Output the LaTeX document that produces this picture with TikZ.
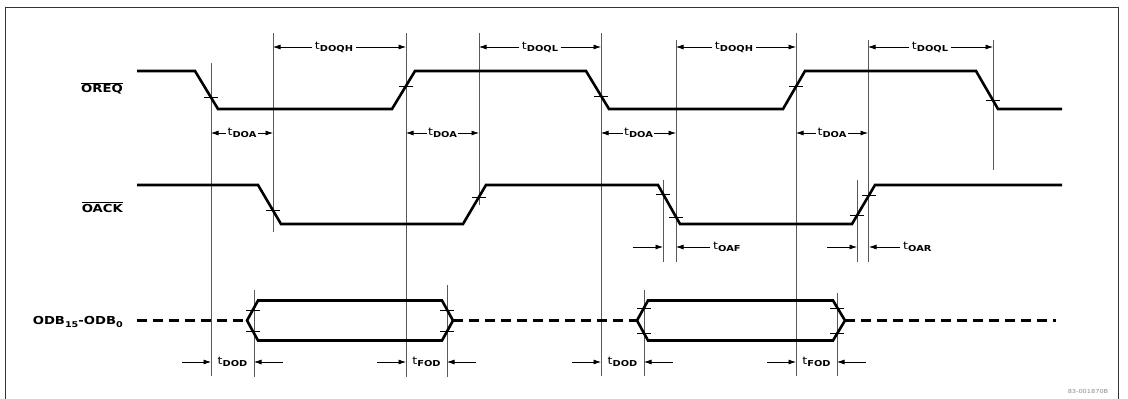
\documentclass[tikz,border=0pt]{standalone}
\usepackage{fontspec}
\newfontfamily\labfont[FakeStretch=1.2]{DejaVu Sans}
\usetikzlibrary{arrows.meta}
\newcommand\tsub[2]{{\labfont\fontsize{10.5}{12}\selectfont #1}\raisebox{-2pt}{\labfont\bfseries\fontsize{8.2}{9}\selectfont #2}}
\newcommand\sigsub[1]{\raisebox{-2.4pt}{\labfont\bfseries\fontsize{8}{9}\selectfont #1}}
\begin{document}
\begin{tikzpicture}[x=1pt,y=-1pt,
  sig/.style={line width=2.6pt, line join=miter},
  bus/.style={line width=2.6pt, dash pattern=on 10pt off 6pt},
  ref/.style={line width=0.6pt, black!65},
  tk/.style={line width=0.6pt, black},
  dim/.style={line width=0.7pt, -{Latex[length=7.5pt,width=5pt]}},
  tl/.style={inner sep=2.5pt},
  lbl/.style={font=\labfont\bfseries\fontsize{11}{12}\selectfont, anchor=east, inner sep=0pt}]
\useasboundingbox (0,0) rectangle (1128,399);
% frame
\draw[line width=1pt, black!80] (5,399) -- (5,7) -- (1118,7) -- (1118,399);
% signal names
\node[lbl] (nOREQ) at (123,88) {$\overline{\hbox{OREQ}}$};
\node[lbl] (nOACK) at (123,207) {$\overline{\hbox{OACK}}$};
\node[lbl] (nODB) at (123,322) {ODB\sigsub{15}-ODB\sigsub{0}};
% reference lines
\foreach \x/\ya/\yb in {211/63/376, 273/33/232, 406/33/377, 479/33/205, 601/33/376,
   676/40/262, 663/180/262, 796/33/376, 868/40/262, 857/180/262, 993/40/170,
   254/290/377, 447/285/377, 644/290/376, 837/293/376}
  \draw[ref] (\x,\ya) -- (\x,\yb);
% OREQ
\draw[sig] (137,71) -- (195,71) -- (218,109) -- (392,109) -- (415,71) -- (586,71)
  -- (609,109) -- (783,109) -- (805,71) -- (976,71) -- (998,109) -- (1062,109);
% OACK
\draw[sig] (137,185) -- (258,185) -- (281,224) -- (463,224) -- (486,185) -- (658,185)
  -- (680,224) -- (852,224) -- (875,185) -- (1062,185);
% data bus
\draw[bus] (137,320.5) -- (247,320.5);
\draw[bus] (453,320.5) -- (637,320.5);
\draw[bus] (845,320.5) -- (1056,320.5);
\draw[sig] (247,320.5) -- (258,300.5) -- (442,300.5) -- (453,320.5) -- (442,340.5) -- (258,340.5) -- cycle;
\draw[sig] (637,320.5) -- (648,300.5) -- (833,300.5) -- (845,320.5) -- (833,340.5) -- (648,340.5) -- cycle;
% crossing ticks
\foreach \x/\y in {211/97, 406/86, 601/96, 796/86, 993/100,
   273/210, 479/197, 663/194, 676/217, 857/215, 869/195,
   253/310, 253/331, 447/310, 447/331, 644/308, 644/333, 837/308, 837/333}
  \draw[tk] (\x-7,\y) -- (\x+7,\y);
% top dimensions
\node[tl] (dq1) at (334,47) {\tsub{t}{DOQH}};
\draw[dim] (dq1.west) -- (273,47); \draw[dim] (dq1.east) -- (406,47);
\node[tl] (dq2) at (540,47) {\tsub{t}{DOQL}};
\draw[dim] (dq2.west) -- (479,47); \draw[dim] (dq2.east) -- (601,47);
\node[tl] (dq3) at (734,47) {\tsub{t}{DOQH}};
\draw[dim] (dq3.west) -- (676,47); \draw[dim] (dq3.east) -- (796,47);
\node[tl] (dq4) at (930,47) {\tsub{t}{DOQL}};
\draw[dim] (dq4.west) -- (868,47); \draw[dim] (dq4.east) -- (993,47);
% tDOA
\foreach \n/\xa/\xb in {a1/211/273, a2/406/479, a3/601/676, a4/796/868}{
  \node[tl, inner sep=1.2pt] (\n) at ({(\xa+\xb)/2},133) {\tsub{t}{DOA}};
  \draw[dim] (\n.west) -- (\xa,133); \draw[dim] (\n.east) -- (\xb,133);}
% tOAF / tOAR
\draw[dim] (633,247) -- (663,247); \draw[dim] (710,247) -- (676,247);
\node[anchor=west, inner sep=0pt] (oaf) at (713,247) {\tsub{t}{OAF}};
\draw[dim] (827,247) -- (857,247); \draw[dim] (900,247) -- (869,247);
\node[anchor=west, inner sep=0pt] (oar) at (903,247) {\tsub{t}{OAR}};
% tDOD / tFOD
\foreach \n/\xa/\xb/\lab in {d1/211/254/DOD, f1/406/447/FOD, d2/601/644/DOD, f2/796/837/FOD}{
  \node[inner sep=0pt] (\n) at ({(\xa+\xb)/2},362) {\tsub{t}{\lab}};
  \draw[dim] (\xa-29,362) -- (\xa,362); \draw[dim] (\xb+29,362) -- (\xb,362);}
% footer
\node[inner sep=0pt, font=\labfont\fontsize{5.5}{6}\selectfont, text=black!45] (ft) at (1088,391) {83-001870B};
\end{tikzpicture}
\end{document}
